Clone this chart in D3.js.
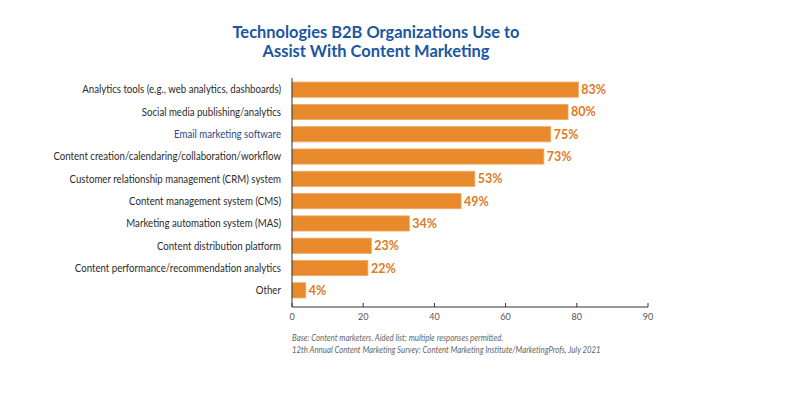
<!DOCTYPE html>
<html><head><meta charset="utf-8">
<script src="https://cdn.jsdelivr.net/npm/d3@7"></script>
<style>body{margin:0;background:#fff}svg{display:block}</style>
</head><body>
<svg id="c" width="800" height="393"></svg>
<script>
const categories = [
  "Analytics tools (e.g., web analytics, dashboards)",
  "Social media publishing/analytics",
  "Email marketing software",
  "Content creation/calendaring/collaboration/workflow",
  "Customer relationship management (CRM) system",
  "Content management system (CMS)",
  "Marketing automation system (MAS)",
  "Content distribution platform",
  "Content performance/recommendation analytics",
  "Other"
];
const values = [83, 80, 75, 73, 53, 49, 34, 23, 22, 4];
const tickValues = [0, 20, 40, 60, 80, 100];
const tickLabels = ["0", "20", "40", "60", "80", "90"];
const titleLines = ["Technologies B2B Organizations Use to", "Assist With Content Marketing"];
const notes = [
  "Base: Content marketers. Aided list; multiple responses permitted.",
  "12th Annual Content Marketing Survey: Content Marketing Institute/MarketingProfs, July 2021"
];

const svg = d3.select("#c");
// axis scale (as printed) and bar scale (bars in the original are drawn slightly shorter)
const x = d3.scaleLinear().domain([0, 100]).range([292, 648]);
const xb = d3.scaleLinear().domain([0, 100]).range([292, 637]);
const y = d3.scaleBand().domain(categories).range([78.5, 301.5]).paddingInner(0.32).paddingOuter(0.16);

// title
svg.append("g").selectAll("text").data(titleLines).join("text")
  .attr("x", 376).attr("y", (d, i) => 38 + i * 19)
  .attr("text-anchor", "middle")
  .attr("font-family", "Lato, sans-serif").attr("font-weight", 700)
  .attr("font-size", 17.5).attr("fill", "#1b56a0")
  .attr("textLength", (d, i) => i === 0 ? 287 : 227)
  .attr("lengthAdjust", "spacingAndGlyphs")
  .text(d => d);

// bars
svg.append("g").selectAll("rect").data(values).join("rect")
  .attr("x", xb(0)).attr("y", (d, i) => y(categories[i]))
  .attr("width", d => xb(d) - xb(0)).attr("height", y.bandwidth())
  .attr("fill", "#e8892b").attr("stroke", "#f2a85e").attr("stroke-width", 0.8);

// value labels
svg.append("g").selectAll("text").data(values).join("text")
  .attr("x", d => xb(d) + 3).attr("y", (d, i) => y(categories[i]) + y.bandwidth() / 2 + 4.5)
  .attr("font-family", "Lato, sans-serif").attr("font-weight", 700)
  .attr("font-size", 12.5).attr("fill", "#e07a1f")
  .text(d => d + "%");

// category labels (condensed)
const labelRight = 281;
const lg = svg.append("g");
const lt = lg.selectAll("text").data(categories).join("text")
  .attr("y", d => y(d) + y.bandwidth() / 2 + 3.8)
  .attr("text-anchor", "end")
  .attr("font-family", "Lato, sans-serif").attr("font-size", 10.5)
  .attr("fill", (d, i) => i === 2 ? "#2d4a86" : "#2b2b2b")
  .text(d => d);
const w0 = lt.nodes()[0].getComputedTextLength();
const sx = 199 / w0;
lt.attr("x", labelRight / sx);
lg.attr("transform", `scale(${sx},1)`);

// axis
const axis = svg.append("g");
axis.append("line").attr("x1", x(0)).attr("x2", x(0)).attr("y1", 78).attr("y2", 307)
  .attr("stroke", "#333").attr("stroke-width", 1);
axis.append("line").attr("x1", x(0)).attr("x2", x(100)).attr("y1", 307).attr("y2", 307)
  .attr("stroke", "#333").attr("stroke-width", 1);
axis.selectAll(".tk").data(tickValues).join("line").attr("class", "tk")
  .attr("x1", d => x(d)).attr("x2", d => x(d)).attr("y1", 303).attr("y2", 307)
  .attr("stroke", "#333").attr("stroke-width", 1);
axis.selectAll(".tl").data(tickValues).join("text").attr("class", "tl")
  .attr("x", d => x(d)).attr("y", 320).attr("text-anchor", "middle")
  .attr("font-family", "Lato, sans-serif").attr("font-size", 9).attr("fill", "#555")
  .text((d, i) => tickLabels[i]);

// notes
const ng = svg.append("g");
const nt = ng.selectAll("text").data(notes).join("text")
  .attr("y", (d, i) => 341 + i * 12.5)
  .attr("font-family", "Lato, sans-serif").attr("font-style", "italic").attr("font-size", 9.5)
  .attr("fill", "#666").text(d => d);
const nw = nt.nodes()[1].getComputedTextLength();
const nsx = 309 / nw;
nt.attr("x", 292 / nsx);
ng.attr("transform", `scale(${nsx},1)`);
</script>
</body></html>
